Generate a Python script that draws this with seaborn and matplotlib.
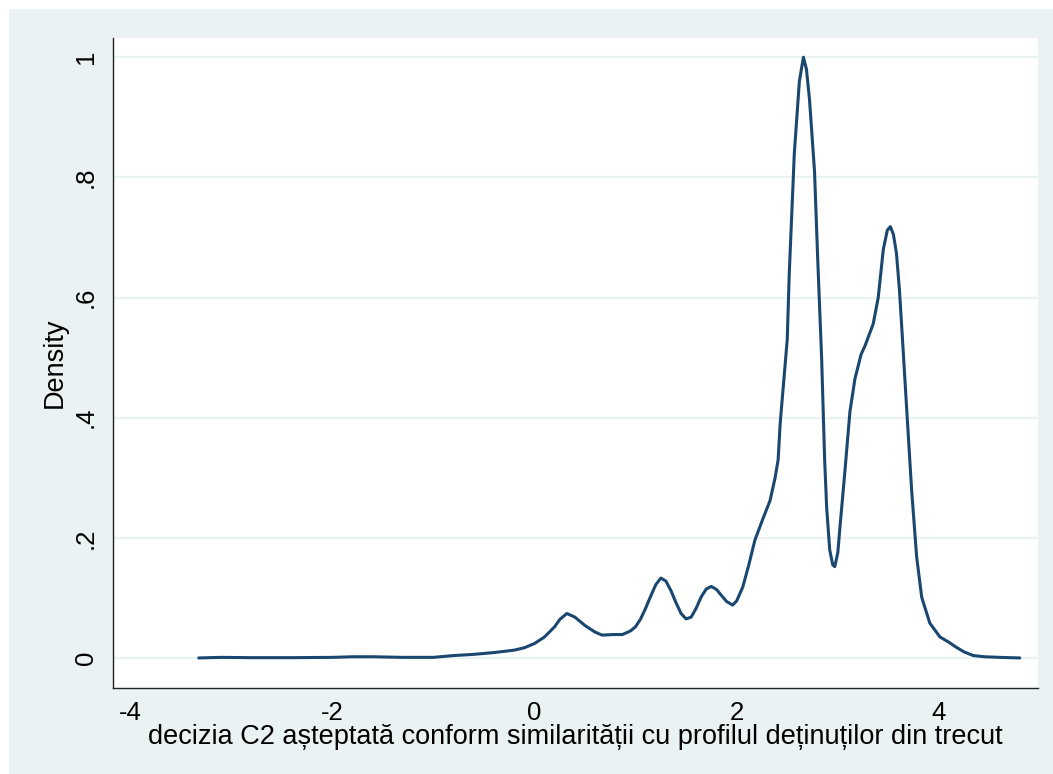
import numpy as np
import pandas as pd
import matplotlib
matplotlib.use('Agg')
import matplotlib.pyplot as plt
import seaborn as sns
from matplotlib.patches import Rectangle

sns.set_style('white')
plt.rcParams['font.family'] = ['Liberation Sans', 'DejaVu Sans']
plt.rcParams['axes.unicode_minus'] = False

# kernel density estimate
grid_x = [-3.32, -3.1, -2.8, -2.4, -2.0, -1.8, -1.6, -1.3, -1.0, -0.8, -0.6, -0.4, -0.2, -0.1,
          0.0, 0.1, 0.2, 0.25, 0.32, 0.4, 0.5, 0.6, 0.67, 0.78, 0.87, 0.95, 1.0, 1.05, 1.1,
          1.15, 1.2, 1.25, 1.3, 1.35, 1.4, 1.45, 1.5, 1.55, 1.6, 1.65, 1.7, 1.75, 1.8, 1.85,
          1.9, 1.96, 2.0, 2.06, 2.12, 2.18, 2.26, 2.33, 2.38, 2.41, 2.43, 2.47, 2.50, 2.52,
          2.57, 2.62, 2.66, 2.69, 2.72, 2.77, 2.80, 2.84, 2.87, 2.89, 2.92, 2.95, 2.97, 3.0,
          3.02, 3.07, 3.12, 3.17, 3.23, 3.27, 3.35, 3.40, 3.45, 3.49, 3.52, 3.55, 3.58, 3.61,
          3.64, 3.68, 3.73, 3.78, 3.83, 3.91, 4.01, 4.10, 4.17, 4.25, 4.34, 4.45, 4.6, 4.8]
density = [0.0, 0.001, 0.0005, 0.0005, 0.001, 0.002, 0.002, 0.001, 0.001, 0.004, 0.006, 0.009,
           0.013, 0.017, 0.024, 0.035, 0.052, 0.064, 0.074, 0.068, 0.054, 0.043, 0.038, 0.039,
           0.039, 0.045, 0.052, 0.065, 0.083, 0.103, 0.122, 0.133, 0.128, 0.112, 0.092, 0.074,
           0.065, 0.068, 0.083, 0.102, 0.115, 0.119, 0.114, 0.104, 0.094, 0.088, 0.095, 0.118,
           0.155, 0.196, 0.232, 0.262, 0.30, 0.33, 0.39, 0.47, 0.53, 0.64, 0.84, 0.96, 1.0,
           0.98, 0.93, 0.81, 0.67, 0.50, 0.33, 0.25, 0.18, 0.155, 0.152, 0.175, 0.215, 0.31,
           0.41, 0.465, 0.505, 0.52, 0.556, 0.60, 0.68, 0.712, 0.718, 0.705, 0.674, 0.612,
           0.53, 0.418, 0.28, 0.168, 0.101, 0.058, 0.035, 0.026, 0.018, 0.01, 0.004, 0.002,
           0.001, 0.0]
x_ticks = [-4, -2, 0, 2, 4]
y_ticks = [0, 0.2, 0.4, 0.6, 0.8, 1.0]
y_tick_labels = ['0', '.2', '.4', '.6', '.8', '1']

df = pd.DataFrame({'x': grid_x, 'Density': density})

bg = '#eaf2f3'
fig = plt.figure(figsize=(10.53, 7.74), dpi=100)
fig.patches.append(Rectangle((9 / 1053, 0), 1, 1 - 9 / 774, transform=fig.transFigure,
                             facecolor=bg, edgecolor='none', zorder=-10))
ax = fig.add_axes([113 / 1053, 1 - 688 / 774, (1038 - 113) / 1053, (688 - 38) / 774])
ax.set_facecolor('white')

sns.lineplot(data=df, x='x', y='Density', sort=False, color='#1a476f', linewidth=2.2, ax=ax)

ax.set_xlim(-4.168, 4.98)
ax.set_ylim(-0.05, 1.032)
ax.set_xticks(x_ticks)
ax.set_yticks(y_ticks)
ax.set_yticklabels(y_tick_labels, rotation=90, va='center')
for t in y_ticks:
    ax.axhline(t, color=bg, linewidth=1.6, zorder=0)

for s in ['top', 'right']:
    ax.spines[s].set_visible(False)
for s in ['left', 'bottom']:
    ax.spines[s].set_color('#222222')
    ax.spines[s].set_linewidth(1.0)
ax.tick_params(axis='both', direction='out', length=7, width=1, color='#222222',
               labelsize=18.5, labelcolor='black', pad=4)
ax.tick_params(axis='x', pad=2)

ax.set_xlabel('decizia C2 așteptată conform similarității cu profilul deținuților din trecut',
              fontsize=19.5, color='black', labelpad=0)
ax.set_ylabel('Density', fontsize=19.5, color='black', labelpad=4)

plt.savefig('out.png', dpi=100)
plt.close()
